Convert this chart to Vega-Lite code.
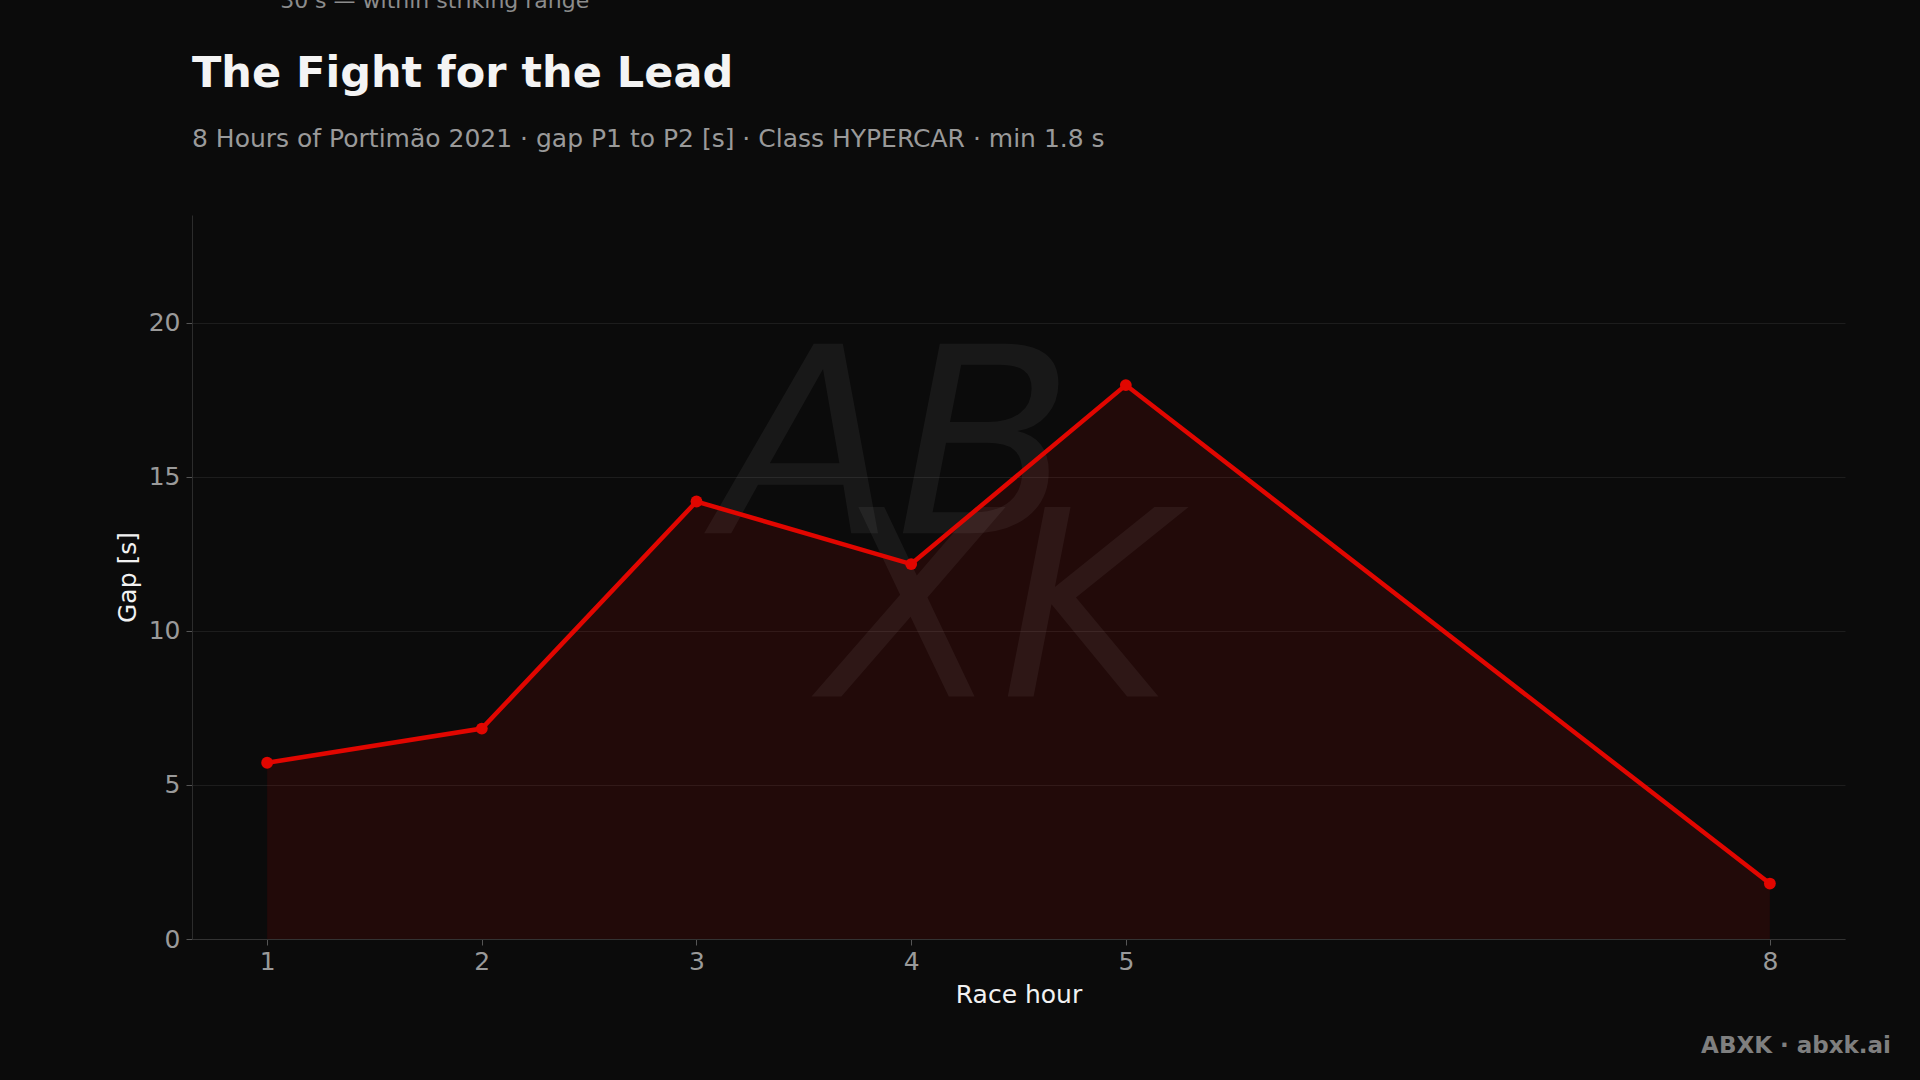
{
  "$schema": "https://vega.github.io/schema/vega-lite/v6.json",
  "width": 1653,
  "height": 724,
  "autosize": {"type": "none"},
  "padding": {"left": 192, "top": 215, "right": 75, "bottom": 141},
  "background": "#0b0b0b",
  "config": {"view": {"stroke": null}, "font": "DejaVu Sans"},
  "title": {
    "text": "The Fight for the Lead",
    "subtitle": "8 Hours of Portimão 2021 · gap P1 to P2 [s] · Class HYPERCAR · min 1.8 s",
    "anchor": "start",
    "frame": "group",
    "font": "DejaVu Sans",
    "fontSize": 43,
    "fontWeight": "bold",
    "color": "#f4f4f4",
    "subtitleFont": "DejaVu Sans",
    "subtitleFontSize": 25,
    "subtitleColor": "#9a9a9a",
    "subtitlePadding": 31,
    "offset": -162
  },
  "datasets": {
    "gap": [
      {"hour": 1, "gap": 5.72},
      {"hour": 2, "gap": 6.83},
      {"hour": 3, "gap": 14.2},
      {"hour": 4, "gap": 12.17},
      {"hour": 5, "gap": 17.98},
      {"hour": 8, "gap": 1.8}
    ],
    "note": [{"hour": 1, "gap": 30, "label": "30 s — within striking range"}],
    "mark": [
      {"hour": 3.93, "gap": 15.7, "label": "AB"},
      {"hour": 4.4, "gap": 10.4, "label": "XK"}
    ],
    "credit": [{"label": "ABXK · abxk.ai"}]
  },
  "layer": [
    {
      "data": {"name": "gap"},
      "mark": {"type": "area", "color": "#e10600", "opacity": 0.11},
      "encoding": {
        "x": {
          "field": "hour",
          "type": "quantitative",
          "scale": {"domain": [0.65, 8.35], "nice": false, "zero": false},
          "axis": {
            "title": "Race hour",
            "values": [1, 2, 3, 4, 5, 8],
            "format": "d",
            "grid": false,
            "domainColor": "#333333",
            "tickColor": "#555555",
            "tickSize": 6,
            "labelColor": "#9a9a9a",
            "labelFontSize": 25,
            "labelFont": "DejaVu Sans",
            "labelPadding": 4,
            "titleColor": "#f2f2f2",
            "titleFontSize": 25,
            "titleFont": "DejaVu Sans",
            "titleFontWeight": "normal",
            "titlePadding": 8
          }
        },
        "y": {
          "field": "gap",
          "type": "quantitative",
          "scale": {"domain": [0, 23.5], "nice": false},
          "axis": {
            "title": "Gap [s]",
            "values": [0, 5, 10, 15, 20],
            "grid": true,
            "gridColor": "#1d1d1d",
            "domainColor": "#2c2c2c",
            "tickColor": "#555555",
            "tickSize": 6,
            "labelColor": "#9a9a9a",
            "labelFontSize": 25,
            "labelFont": "DejaVu Sans",
            "labelPadding": 6,
            "titleColor": "#f2f2f2",
            "titleFontSize": 25,
            "titleFont": "DejaVu Sans",
            "titleFontWeight": "normal",
            "titlePadding": 8
          }
        }
      }
    },
    {
      "data": {"name": "mark"},
      "mark": {"type": "text", "font": "DejaVu Sans", "fontWeight": 200, "fontStyle": "italic", "fontSize": 260, "color": "#ffffff", "opacity": 0.05, "align": "center", "baseline": "middle"},
      "encoding": {
        "x": {"field": "hour", "type": "quantitative"},
        "y": {"field": "gap", "type": "quantitative"},
        "text": {"field": "label"}
      }
    },
    {
      "data": {"name": "gap"},
      "mark": {"type": "line", "color": "#e10600", "strokeWidth": 4.5},
      "encoding": {
        "x": {"field": "hour", "type": "quantitative"},
        "y": {"field": "gap", "type": "quantitative"}
      }
    },
    {
      "data": {"name": "gap"},
      "mark": {"type": "point", "filled": true, "color": "#e10600", "opacity": 1, "size": 140},
      "encoding": {
        "x": {"field": "hour", "type": "quantitative"},
        "y": {"field": "gap", "type": "quantitative"}
      }
    },
    {
      "data": {"name": "note"},
      "mark": {"type": "text", "font": "DejaVu Sans", "fontSize": 22, "color": "#8c8c8c", "align": "left", "baseline": "alphabetic", "dx": 13, "dy": -7},
      "encoding": {
        "x": {"field": "hour", "type": "quantitative"},
        "y": {"field": "gap", "type": "quantitative"},
        "text": {"field": "label"}
      }
    },
    {
      "data": {"name": "credit"},
      "mark": {"type": "text", "font": "DejaVu Sans", "fontSize": 23, "fontWeight": "bold", "color": "#7f7f7f", "align": "right", "baseline": "alphabetic", "dx": 46, "dy": 114},
      "encoding": {
        "x": {"datum": 8.35, "type": "quantitative"},
        "y": {"datum": 0, "type": "quantitative"},
        "text": {"field": "label"}
      }
    }
  ]
}
